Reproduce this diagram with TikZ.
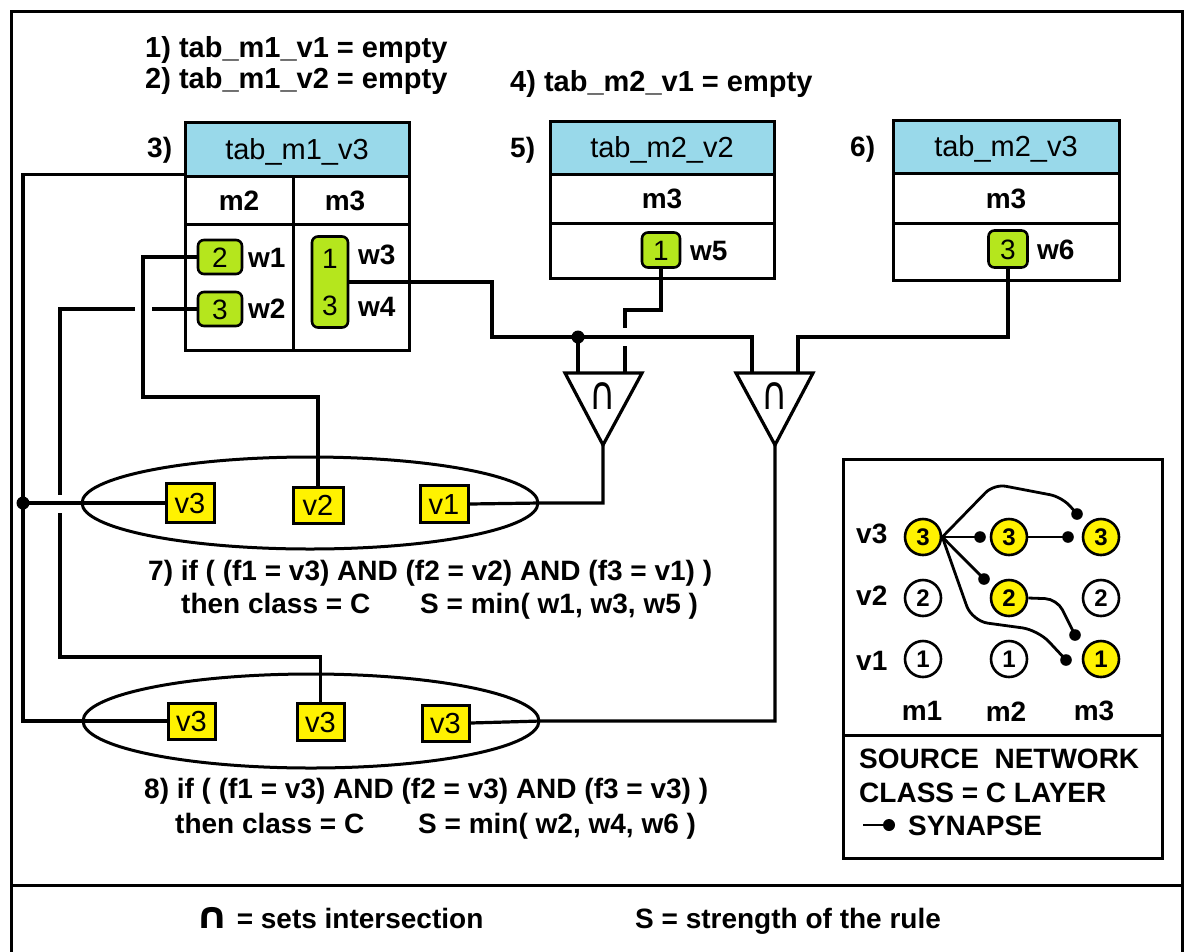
\documentclass[tikz,border=0pt]{standalone}
\usepackage{fontspec}
\usepackage{graphicx}
\setmainfont{Liberation Sans}
\newfontfamily\djv{DejaVu Sans}
\usetikzlibrary{shapes.geometric}
\definecolor{hdrblue}{HTML}{99D9EA}
\definecolor{grn}{HTML}{B5E61D}
\definecolor{yel}{HTML}{FFF200}
\newcommand\myB{\bfseries\fontsize{28}{32}\selectfont}
\newcommand\myBt{\bfseries\fontsize{29}{32}\selectfont}
\newcommand\myR{\fontsize{29}{32}\selectfont}
\newcommand\myRs{\fontsize{28}{32}\selectfont}
\begin{document}
\begin{tikzpicture}[x=1pt,y=-1pt,
  wire/.style={line width=3.2pt},
  syn/.style={line width=2.8pt},
  cell/.style={draw, line width=3pt, inner sep=0pt, font=\myB, text height=20pt, text depth=0pt},
  hdr/.style={cell, fill=hdrblue, font=\myR},
  gbox/.style={draw, line width=2.6pt, fill=grn, rounded corners=6pt, inner sep=0pt, font=\myRs, text height=20pt, text depth=0pt},
  ybox/.style={draw, line width=3pt, fill=yel, inner sep=0pt, font=\myR, text height=21pt, text depth=0pt},
  ell/.style={draw, ellipse, line width=3pt, inner sep=0pt},
  txt/.style={anchor=base west, inner sep=0pt, font=\myB},
  ctxt/.style={anchor=base, inner sep=0pt, font=\myB},
  rtxt/.style={anchor=base east, inner sep=0pt, font=\myB},
  neur/.style={circle, draw, line width=2.6pt, minimum size=36pt, inner sep=0pt, font=\bfseries\fontsize{24}{26}\selectfont, text height=17pt, text depth=0pt},
  capsym/.style={anchor=base, inner sep=0pt, font=\djv\fontsize{30}{34}\selectfont}
]
\useasboundingbox (0,0) rectangle (1185,951);
% frame
\draw[line width=3pt] (11,11) rectangle (1182,975);
\draw[line width=3pt] (11,885) -- (1182,885);

% top texts
\node[txt, font=\myBt] (l1) at (145,57) {1) tab\_m1\_v1 = empty};
\node[txt, font=\myBt] (l2) at (145,88) {2) tab\_m1\_v2 = empty};
\node[txt, font=\myBt] (l4) at (510,91) {4) tab\_m2\_v1 = empty};
\node[txt] (l3) at (147,157) {3)};
\node[txt] (l5) at (510,157) {5)};
\node[txt] (l6) at (850,156) {6)};

% table 3
\node[hdr, minimum width=224pt, minimum height=54pt] (t3h) at (297,149) {tab\_m1\_v3};
\node[cell, minimum width=108pt, minimum height=48pt] (t3a) at (239,200) {m2};
\node[cell, minimum width=116pt, minimum height=48pt] (t3b) at (351,200) {\hspace*{-12pt}m3};
\node[cell, minimum width=108pt, minimum height=126pt] (t3c) at (239,287) {};
\node[cell, minimum width=116pt, minimum height=126pt] (t3d) at (351,287) {};
\node[gbox, minimum width=44pt, minimum height=34pt] (g1) at (220,257) {2};
\node[gbox, minimum width=44pt, minimum height=34pt] (g2) at (220,309) {3};
\node[gbox, minimum width=36pt, minimum height=91pt] (g34) at (330,282) {};
\node[ctxt, font=\myRs] (g34a) at (330,268) {1};
\node[ctxt, font=\myRs] (g34b) at (330,315) {3};
\node[txt] (w1) at (248,267) {w1};
\node[txt] (w2) at (248,318) {w2};
\node[txt] (w3) at (358,264) {w3};
\node[txt] (w4) at (358,316) {w4};

% table 5
\node[hdr, minimum width=224pt, minimum height=53pt] (t5h) at (662,147.5) {tab\_m2\_v2};
\node[cell, minimum width=224pt, minimum height=49pt] (t5a) at (662,198.5) {m3};
\node[cell, minimum width=224pt, minimum height=55pt] (t5b) at (662,250.5) {};
\node[gbox, minimum width=38pt, minimum height=35pt] (g5) at (661,250) {1};
\node[txt] (w5) at (690,260) {w5};

% table 6
\node[hdr, minimum width=226pt, minimum height=53pt] (t6h) at (1006,146.5) {tab\_m2\_v3};
\node[cell, minimum width=226pt, minimum height=50pt] (t6a) at (1006,198) {m3};
\node[cell, minimum width=226pt, minimum height=57pt] (t6b) at (1006,251.5) {};
\node[gbox, minimum width=39pt, minimum height=37pt] (g6) at (1008,249) {3};
\node[txt] (w6) at (1037,259) {w6};

% triangles
\coordinate (t1in1) at (578,373);
\coordinate (t1in2) at (625,373);
\coordinate (t1tip) at (603,445);
\coordinate (t2in1) at (752,373);
\coordinate (t2in2) at (798,373);
\coordinate (t2tip) at (775,445);
\draw[wire, line join=miter] (565,373) -- (642,373) -- (t1tip) -- cycle;
\draw[wire, line join=miter] (736,373) -- (813,373) -- (t2tip) -- cycle;
\node[capsym] (i1) at (603,409) {\scalebox{1.2}[1.55]{∩}};
\node[capsym] (i2) at (775,409) {\scalebox{1.2}[1.55]{∩}};

% ellipses and value boxes
\node[ell, minimum width=456pt, minimum height=92pt] (e1) at (310,503) {};
\node[ybox, minimum width=48pt, minimum height=39pt] (p3) at (190,503) {v3};
\node[ybox, minimum width=50pt, minimum height=36pt] (p2) at (318,505) {v2};
\node[ybox, minimum width=48pt, minimum height=37pt] (p1) at (444,504) {v1};
\node[ell, minimum width=456pt, minimum height=94pt] (e2) at (311,721) {};
\node[ybox, minimum width=47pt, minimum height=36pt] (q1) at (191.5,721) {v3};
\node[ybox, minimum width=47pt, minimum height=37pt] (q2) at (320.5,721.5) {v3};
\node[ybox, minimum width=47pt, minimum height=36pt] (q3) at (445.5,723) {v3};

% connectors
\coordinate (dot) at (23,503);
\draw[wire] (t3a.north west) -| (dot) |- (e2.west) -- (q1.west);
\draw[wire] (dot) -- (e1.west) -- (p3.west);
\fill (dot) circle (6.5pt);

\coordinate (c1) at (143,397);
\draw[wire] (g1.west) -| (c1) -| (p2.north);

\coordinate (b1) at (152,309);
\coordinate (b2) at (135,309);
\coordinate (c2) at (60,495);
\coordinate (c3) at (60,513);
\coordinate (c4) at (60,657);
\draw[wire] (g2.west) -- (b1);
\draw[wire] (b2) -| (c2);
\draw[wire] (c3) -- (c4) -| (q2.north);

\coordinate (k1) at (492,337);
\coordinate (j1) at (578,337);
\draw[wire] (g34.east) -| (k1) -| (t2in1);
\draw[wire] (j1) -- (t1in1);
\fill (j1) circle (6.5pt);

\coordinate (k2) at (625,310);
\coordinate (k2a) at (625,328);
\coordinate (k2b) at (625,346);
\draw[wire] (g5.south) |- (k2) -- (k2a);
\draw[wire] (k2b) -- (t1in2);

\coordinate (k3) at (798,337);
\draw[wire] (g6.south) |- (k3) -- (t2in2);

\draw[wire] (t1tip) |- (e1.east) -- (p1.east);
\draw[wire] (t2tip) |- (e2.east) -- (q3.east);

% rules
\node[txt] (r7a) at (148,580) {7) if ( (f1 = v3) AND (f2 = v2) AND (f3 = v1) )};
\node[txt] (r7b) at (181,613) {then class = C};
\node[txt] (r7c) at (420,613) {S = min( w1, w3, w5 )};
\node[txt] (r8a) at (144,798) {8) if ( (f1 = v3) AND (f2 = v3) AND (f3 = v3) )};
\node[txt] (r8b) at (175,833) {then class = C};
\node[txt] (r8c) at (418,833) {S = min( w2, w4, w6 )};

% bottom legend
\node[txt] (b1t) at (195,928) {{\djv\bfseries\fontsize{26}{30}\selectfont\scalebox{1.6}[1.4]{∩}} = sets intersection};
\node[txt] (b2t) at (635,928) {S = strength of the rule};

% source network box
\node[draw, line width=3pt, minimum width=319pt, minimum height=276pt, inner sep=0pt] (lg1) at (1002.5,597) {};
\node[draw, line width=3pt, minimum width=319pt, minimum height=123pt, inner sep=0pt] (lg2) at (1002.5,796.5) {};
\node[neur, fill=yel] (n13) at (923,537) {3};
\node[neur, fill=yel] (n23) at (1009,537) {3};
\node[neur, fill=yel] (n33) at (1101,537) {3};
\node[neur] (n12) at (923,598) {2};
\node[neur, fill=yel] (n22) at (1009,598) {2};
\node[neur] (n32) at (1101,598) {2};
\node[neur] (n11) at (923,659) {1};
\node[neur] (n21) at (1009,659) {1};
\node[neur, fill=yel] (n31) at (1101,659) {1};
\node[txt] (rv3) at (856,543) {v3};
\node[txt] (rv2) at (856,605) {v2};
\node[txt] (rv1) at (856,670) {v1};
\node[ctxt] (cm1) at (922,720) {m1};
\node[ctxt] (cm2) at (1006,721) {m2};
\node[ctxt] (cm3) at (1094,720) {m3};

\coordinate (s1) at (980,537);
\coordinate (s2) at (1068,537);
\coordinate (s3) at (984,579);
\coordinate (s4) at (1077,514);
\coordinate (s5) at (1066,660);
\coordinate (s6) at (1075,635);
\draw[syn] (n13.east) -- (s1);
\draw[syn] (n23.east) -- (s2);
\draw[syn] (n13.east) -- (s3);
\draw[syn, rounded corners=12pt] (n13.east) -- (994,484) -- (1062,497) -- (s4);
\draw[syn, rounded corners=16pt] (n13.east) -- (972,621) -- (1038,630) -- (s5);
\draw[syn, rounded corners=12pt] (n22.east) -- (1057,599) -- (s6);
\foreach \s in {s1,s2,s3,s4,s5,s6} \fill (\s) circle (5.8pt);

\node[txt] (src1) at (859,768) {SOURCE\ \ NETWORK};
\node[txt] (src2) at (859,802) {CLASS = C LAYER};
\coordinate (sy0) at (863,825);
\coordinate (sy1) at (889,825);
\draw[syn] (sy0) -- (sy1);
\fill (sy1) circle (6pt);
\node[txt] (src3) at (908,835) {SYNAPSE};
\end{tikzpicture}
\end{document}
